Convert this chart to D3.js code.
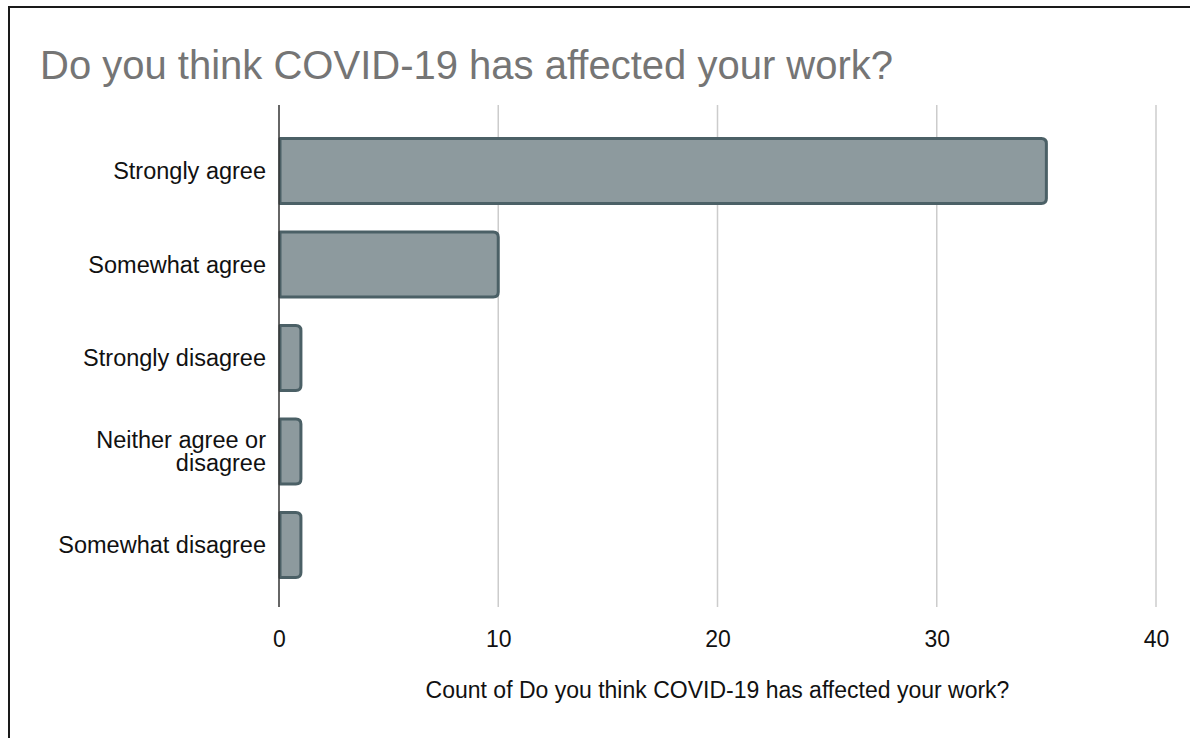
<!DOCTYPE html>
<html>
<head>
<meta charset="utf-8">
<script src="https://cdn.jsdelivr.net/npm/d3@7"></script>
<style>
  html, body { margin: 0; padding: 0; background: #fff; }
  svg { display: block; }
  text { font-family: "Liberation Sans", Arial, Helvetica, sans-serif; }
</style>
</head>
<body>
<svg id="chart" width="1190" height="738"></svg>
<script>
// Survey responses
const categories = [
  ["Strongly agree"],
  ["Somewhat agree"],
  ["Strongly disagree"],
  ["Neither agree or", "disagree"],
  ["Somewhat disagree"]
];
const counts = [35, 10, 1, 1, 1];
const xTicks = [0, 10, 20, 30, 40];
const chartTitle = "Do you think COVID-19 has affected your work?";
const xAxisTitle = "Count of Do you think COVID-19 has affected your work?";

const svg = d3.select("#chart");
const W = 1190, H = 738;
const plot = { left: 279, right: 1156, top: 105, bottom: 607 };

// Frame around the chart
svg.append("path")
  .attr("d", `M9,${H} V7 H${W}`)
  .attr("fill", "none")
  .attr("stroke", "#1a1a1a")
  .attr("stroke-width", 2);

// Title
svg.append("text")
  .attr("x", 40)
  .attr("y", 79)
  .attr("font-size", 40)
  .attr("fill", "#757575")
  .text(chartTitle);

const keys = categories.map(c => c.join(" "));
const x = d3.scaleLinear().domain([0, 40]).range([plot.left, plot.right]);
const y = d3.scaleBand().domain(keys).range([plot.top, plot.bottom])
  .paddingInner(0.305).paddingOuter(0.337).align(0.53);

// Vertical gridlines
svg.append("g").selectAll("line")
  .data(xTicks.filter(t => t !== 0))
  .join("line")
  .attr("x1", d => x(d)).attr("x2", d => x(d))
  .attr("y1", plot.top).attr("y2", plot.bottom)
  .attr("stroke", "#cccccc")
  .attr("stroke-width", 1.5);

// Bars with rounded right end
const r = 5;
function barPath(d, i) {
  const x0 = x(0) + 1, x1 = x(d);
  const y0 = y(keys[i]), y1 = y0 + y.bandwidth();
  const rr = Math.min(r, (x1 - x0) / 2);
  return `M${x0},${y0} H${x1 - rr} Q${x1},${y0} ${x1},${y0 + rr} V${y1 - rr} Q${x1},${y1} ${x1 - rr},${y1} H${x0} Z`;
}
svg.append("g").selectAll("path")
  .data(counts)
  .join("path")
  .attr("d", (d, i) => barPath(d, i))
  .attr("fill", "#8d9a9e")
  .attr("stroke", "#4b6066")
  .attr("stroke-width", 3)
  .attr("stroke-linejoin", "round");

// Baseline axis
svg.append("line")
  .attr("x1", x(0)).attr("x2", x(0))
  .attr("y1", plot.top).attr("y2", plot.bottom)
  .attr("stroke", "#333333")
  .attr("stroke-width", 1.5);

// Category labels
const lineGap = 23;
const labels = svg.append("g").selectAll("text")
  .data(categories)
  .join("text")
  .attr("x", 266)
  .attr("text-anchor", "end")
  .attr("font-size", 23.5)
  .attr("fill", "#111")
  .attr("transform", (d, i) => {
    const cy = y(keys[i]) + y.bandwidth() / 2;
    return `translate(0,${cy - (d.length - 1) * lineGap / 2})`;
  });
labels.selectAll("tspan")
  .data(d => d)
  .join("tspan")
  .attr("x", 266)
  .attr("y", (d, j) => j * lineGap)
  .attr("dy", "0.35em")
  .text(d => d);

// Tick labels
const xAxis = d3.axisBottom(x).tickValues(xTicks).tickSize(0).tickPadding(0);
const gx = svg.append("g").attr("transform", `translate(0,${plot.bottom})`).call(xAxis);
gx.select(".domain").remove();
gx.selectAll("text")
  .attr("y", 40)
  .attr("dy", 0)
  .attr("font-size", 23)
  .attr("font-family", "\"Liberation Sans\", Arial, sans-serif")
  .attr("fill", "#111");

// Axis title
svg.append("text")
  .attr("x", (plot.left + plot.right) / 2)
  .attr("y", 698)
  .attr("text-anchor", "middle")
  .attr("font-size", 23)
  .attr("fill", "#111")
  .text(xAxisTitle);
</script>
</body>
</html>
